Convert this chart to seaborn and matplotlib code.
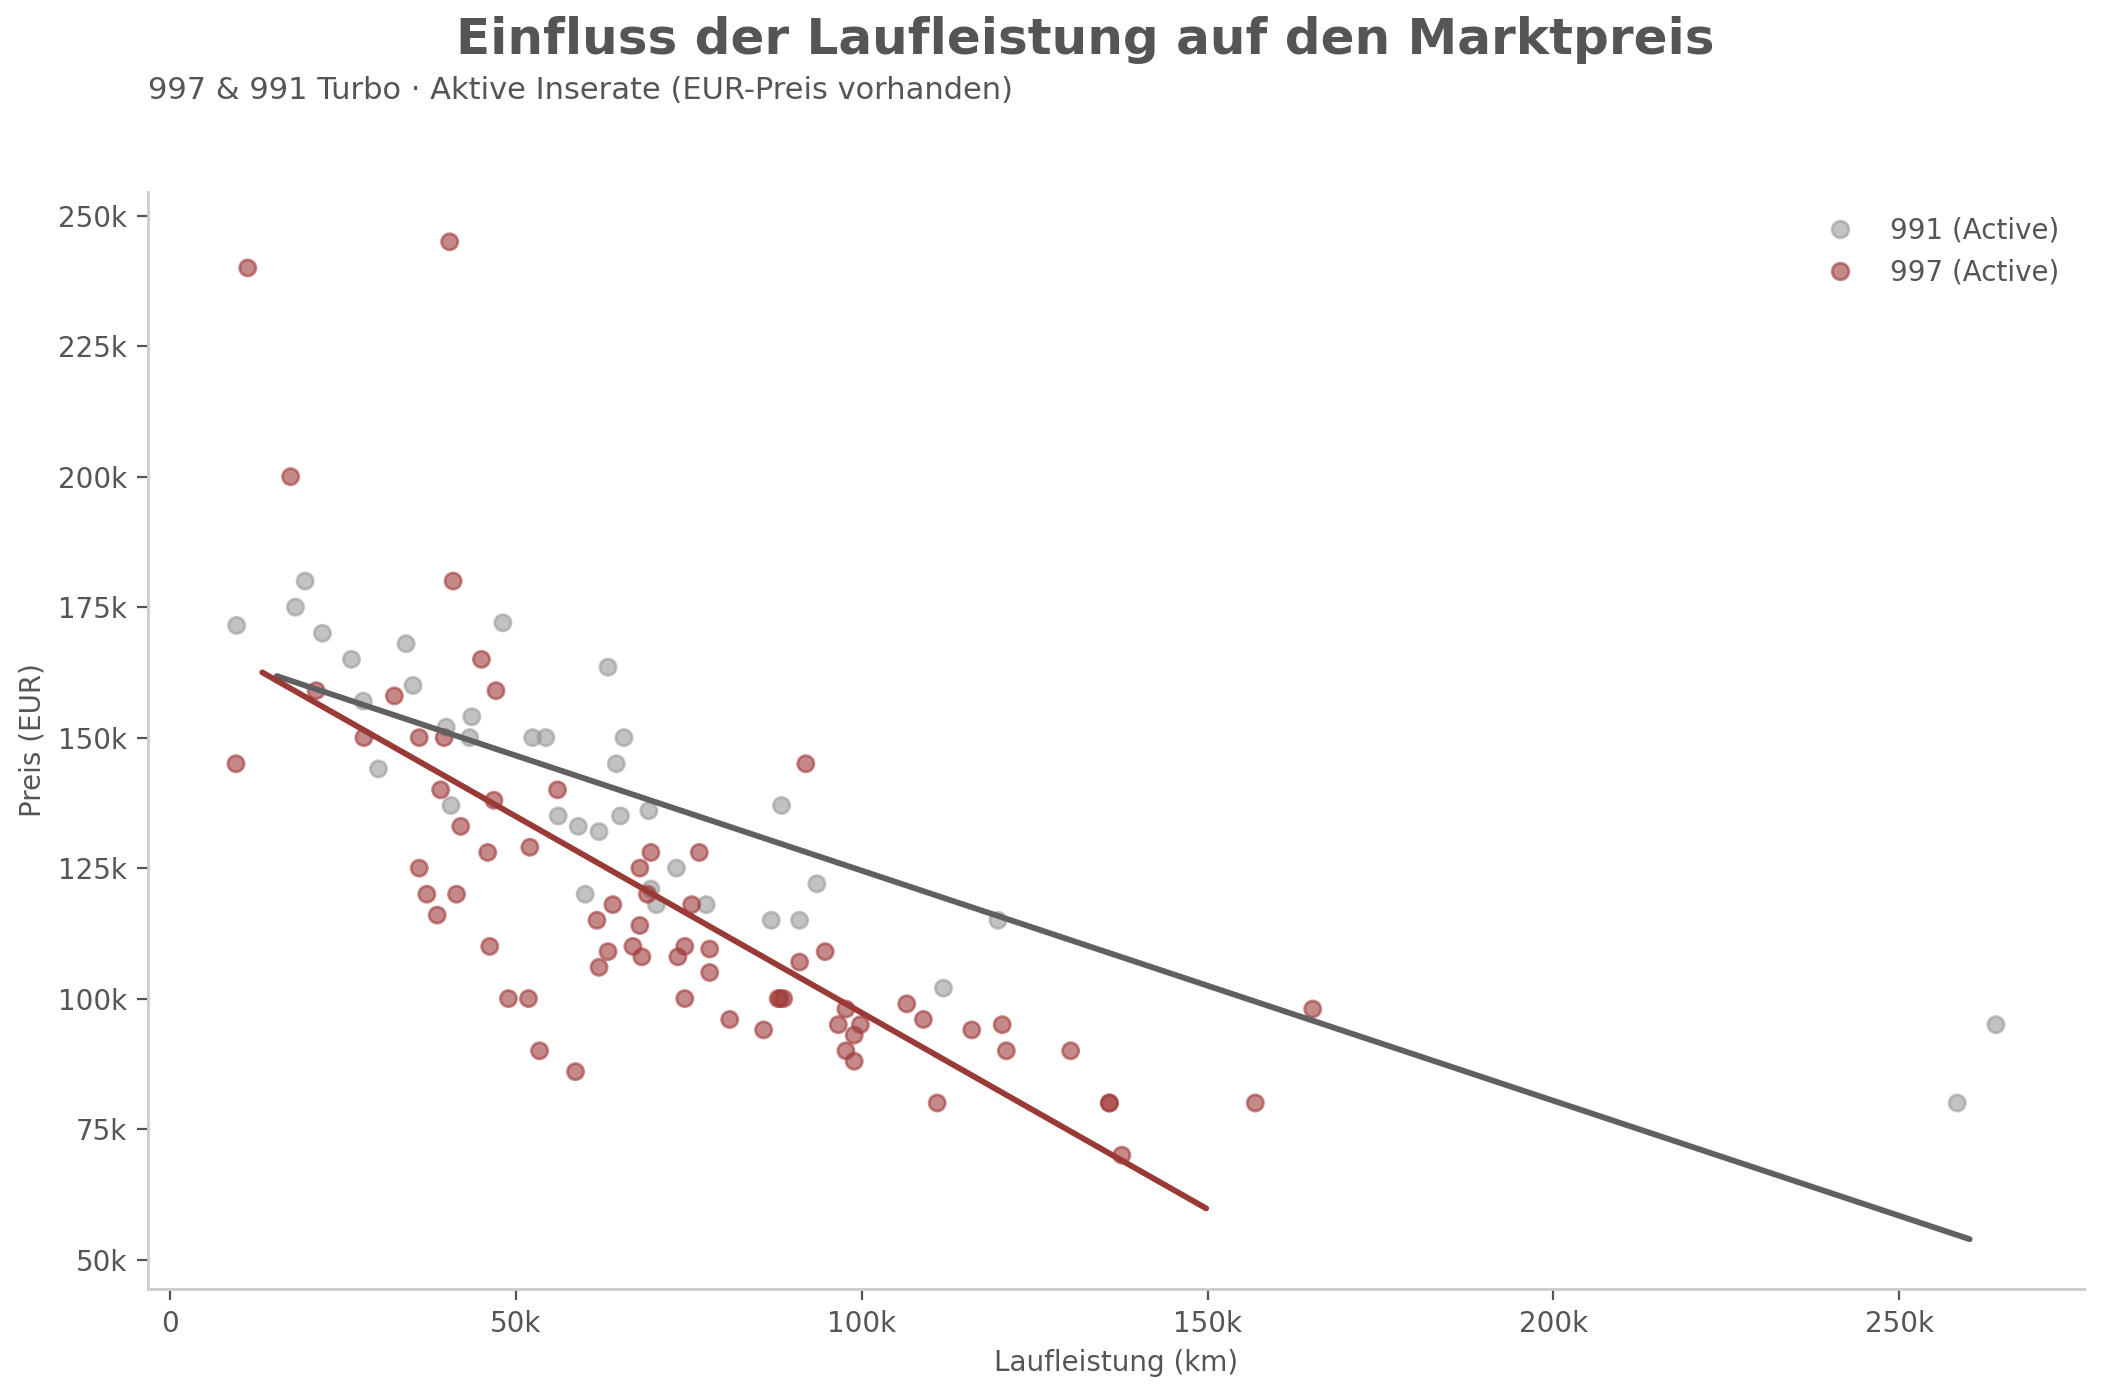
import numpy as np
import pandas as pd
import matplotlib
matplotlib.use("Agg")
import matplotlib.pyplot as plt
import seaborn as sns
from matplotlib.ticker import FuncFormatter

# ---------------- data ----------------
series_labels = ["991 (Active)", "997 (Active)"]

km_991 = [9600, 18100, 19500, 22000, 26200, 27900, 30100, 34100, 35100, 39900,
          40600, 43300, 43600, 48100, 52400, 54300, 56100, 59000, 60000, 62000,
          63300, 64500, 65100, 65600, 69200, 69500, 70300, 73200, 77500, 86900,
          88400, 91000, 93500, 111800, 119700, 258400, 264000]
price_991 = [171500, 175000, 180000, 170000, 165000, 157000, 144000, 168000, 160000, 152000,
             137000, 150000, 154000, 172000, 150000, 150000, 135000, 133000, 120000, 132000,
             163500, 145000, 135000, 150000, 136000, 121000, 118000, 125000, 118000, 115000,
             137000, 115000, 122000, 102000, 115000, 80000, 95000]

km_997 = [9500, 11200, 17400, 21100, 28000, 32400, 36000, 36000, 37100, 38600,
          39100, 39600, 40400, 40900, 41400, 42000, 45000, 45900, 46200, 46800,
          47100, 48900, 51800, 52000, 53400, 56000, 58600, 61700, 62000, 63300,
          64000, 66900, 67900, 67900, 68200, 69000, 69500, 73400, 74400, 74400,
          75400, 76500, 78000, 78000, 80900, 85800, 87900, 88200, 88700, 91000,
          91900, 94700, 96600, 97700, 97700, 98900, 98900, 99800, 106500, 108900,
          110900, 115900, 120300, 120900, 130200, 135800, 135800, 137600, 156900, 165200]
price_997 = [145000, 240000, 200000, 159000, 150000, 158000, 150000, 125000, 120000, 116000,
             140000, 150000, 245000, 180000, 120000, 133000, 165000, 128000, 110000, 138000,
             159000, 100000, 100000, 129000, 90000, 140000, 86000, 115000, 106000, 109000,
             118000, 110000, 125000, 114000, 108000, 120000, 128000, 108000, 110000, 100000,
             118000, 128000, 109500, 105000, 96000, 94000, 100000, 100000, 100000, 107000,
             145000, 109000, 95000, 98000, 90000, 93000, 88000, 95000, 99000, 96000,
             80000, 94000, 95000, 90000, 90000, 80000, 80000, 70000, 80000, 98000]

# linear trend lines as drawn in the reference (start / end values)
trend_km_991 = [15400, 260200]
trend_price_991 = [161800, 53900]
trend_km_997 = [13300, 149800]
trend_price_997 = [162500, 59800]

x_ticks = [0, 50000, 100000, 150000, 200000, 250000]
y_ticks = [50000, 75000, 100000, 125000, 150000, 175000, 200000, 225000, 250000]

# ---------------- style ----------------
TXT = "#555555"
point_colors = {"991 (Active)": "#9a9a9a", "997 (Active)": "#a03a3a"}
line_colors = {"991 (Active)": "#606060", "997 (Active)": "#9a3a36"}

sns.set_theme(style="white")
plt.rcParams["font.family"] = ["DejaVu Sans"]

df = pd.concat([
    pd.DataFrame({"km": km_991, "price": price_991, "series": series_labels[0]}),
    pd.DataFrame({"km": km_997, "price": price_997, "series": series_labels[1]}),
], ignore_index=True)

trend = pd.concat([
    pd.DataFrame({"km": trend_km_991, "price": trend_price_991, "series": series_labels[0]}),
    pd.DataFrame({"km": trend_km_997, "price": trend_price_997, "series": series_labels[1]}),
], ignore_index=True)

fig = plt.figure(figsize=(2105 / 200, 1396 / 200), dpi=200)
ax = fig.add_axes([0.0703, 0.0766, 0.9197, 0.7859])

sns.scatterplot(data=df, x="km", y="price", hue="series", hue_order=series_labels,
                palette=point_colors, s=34, alpha=0.6, linewidth=1.0, ax=ax)
for coll in ax.collections:
    coll.set_edgecolor("face")

sns.lineplot(data=trend, x="km", y="price", hue="series", hue_order=series_labels,
             palette=line_colors, lw=2.1, legend=False, ax=ax, zorder=3,
             estimator=None, sort=False)

# axes styling
for side in ["top", "right"]:
    ax.spines[side].set_visible(False)
for side in ["left", "bottom"]:
    ax.spines[side].set_color("#cccccc")
    ax.spines[side].set_linewidth(1.0)

ax.set_xticks(x_ticks)
ax.set_yticks(y_ticks)
fmt = FuncFormatter(lambda v, p: "0" if v == 0 else f"{v/1000:.0f}k")
ax.xaxis.set_major_formatter(fmt)
ax.yaxis.set_major_formatter(fmt)
ax.tick_params(axis="both", bottom=True, left=True, colors=TXT, labelsize=10,
               length=4, width=0.8)
ax.margins(0.05)

ax.set_xlabel("Laufleistung (km)", fontsize=10, color=TXT)
ax.set_ylabel("Preis (EUR)", fontsize=10, color=TXT)

handles, labels = ax.get_legend_handles_labels()
handles, labels = handles[:2], labels[:2]
for h in handles:
    try:
        h.set_markersize(6)
        h.set_markeredgewidth(1.0)
        h.set_markeredgecolor(h.get_markerfacecolor())
    except Exception:
        pass
leg = ax.legend(handles=handles, labels=labels, loc="upper right",
                frameon=False, fontsize=10, labelcolor=TXT, handletextpad=0.8)

fig.text(0.5155, 0.971, "Einfluss der Laufleistung auf den Marktpreis",
         ha="center", va="center", fontsize=18, fontweight="bold", color=TXT)
fig.text(0.0703, 0.935, "997 & 991 Turbo · Aktive Inserate (EUR-Preis vorhanden)",
         ha="left", va="center", fontsize=11, color=TXT)

fig.savefig("out.png", dpi=200)
